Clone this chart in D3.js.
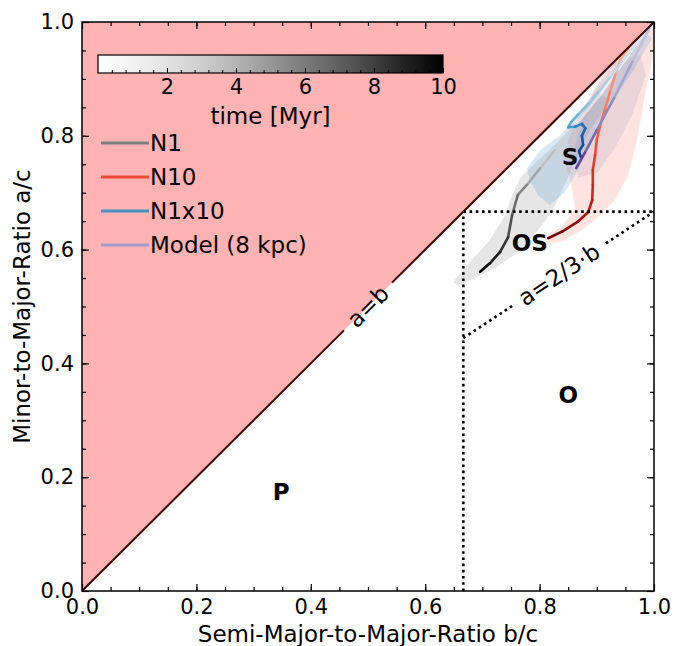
<!DOCTYPE html>
<html>
<head>
<meta charset="utf-8">
<script src="https://cdn.jsdelivr.net/npm/d3@7"></script>
<style>
  body { margin: 0; background: #fff; }
  text { font-family: "DejaVu Sans", sans-serif; fill: #000; }
</style>
</head>
<body>
<div id="chart"></div>
<script>
// tracks: [b/c, a/c, time in Myr]
let n1Track = [
  [0.984, 0.986, 0], [0.949, 0.933, 0.8], [0.906, 0.872, 1.6], [0.862, 0.819, 2.4],
  [0.827, 0.775, 3.2], [0.801, 0.743, 4.0], [0.778, 0.714, 5.0], [0.762, 0.696, 6.0],
  [0.752, 0.661, 7.0], [0.745, 0.622, 8.0], [0.731, 0.596, 8.7], [0.713, 0.576, 9.4],
  [0.696, 0.561, 10]
];
let n10Track = [
  [0.993, 0.995, 0], [0.976, 0.977, 0.6], [0.955, 0.954, 1.2], [0.941, 0.933, 1.8],
  [0.932, 0.907, 2.4], [0.923, 0.877, 3.0], [0.914, 0.845, 3.6], [0.906, 0.819, 4.2],
  [0.900, 0.793, 4.8], [0.897, 0.766, 5.4], [0.893, 0.740, 6.0], [0.893, 0.714, 6.6],
  [0.892, 0.687, 7.2], [0.885, 0.666, 7.9], [0.867, 0.649, 8.6], [0.840, 0.632, 9.3],
  [0.815, 0.620, 10]
];
let n1x10Track = [
  [0.990, 0.989, 0], [0.967, 0.960, 0.8], [0.944, 0.930, 1.6], [0.923, 0.902, 2.4],
  [0.902, 0.877, 3.0], [0.885, 0.856, 3.6], [0.867, 0.837, 4.2], [0.855, 0.824, 4.8],
  [0.850, 0.815, 5.4], [0.862, 0.816, 6.4], [0.874, 0.821, 7.2], [0.880, 0.813, 7.9],
  [0.874, 0.800, 8.5], [0.876, 0.784, 9.0], [0.869, 0.773, 9.5], [0.872, 0.763, 10]
];
let modelTrack = [
  [0.995, 0.995, 0], [0.962, 0.930, 2], [0.930, 0.866, 4], [0.900, 0.810, 6],
  [0.879, 0.770, 8], [0.864, 0.743, 10]
];

// scatter envelopes: [b/c, a/c]
let n1Band = [
  [0.649, 0.543], [0.678, 0.578], [0.713, 0.617], [0.740, 0.661], [0.752, 0.696],
  [0.766, 0.726], [0.792, 0.752], [0.827, 0.784], [0.871, 0.831], [0.906, 0.872],
  [0.923, 0.863], [0.888, 0.810], [0.862, 0.757], [0.844, 0.714], [0.827, 0.678],
  [0.809, 0.649], [0.783, 0.617], [0.757, 0.591], [0.722, 0.568], [0.687, 0.550],
  [0.657, 0.536]
];
let n10Band = [
  [0.984, 0.995], [1.0, 0.986], [0.997, 0.933], [0.984, 0.872], [0.972, 0.801],
  [0.955, 0.731], [0.932, 0.687], [0.906, 0.661], [0.879, 0.638], [0.844, 0.617],
  [0.815, 0.608], [0.808, 0.622], [0.836, 0.638], [0.862, 0.670], [0.857, 0.705],
  [0.846, 0.749], [0.850, 0.793], [0.874, 0.845], [0.906, 0.895], [0.941, 0.942]
];
let n1x10Band = [
  [0.778, 0.743], [0.801, 0.775], [0.836, 0.801], [0.871, 0.840], [0.906, 0.880],
  [0.949, 0.937], [0.984, 0.982], [0.997, 0.972], [0.962, 0.912], [0.927, 0.859],
  [0.899, 0.819], [0.885, 0.779], [0.865, 0.736], [0.844, 0.701], [0.818, 0.678],
  [0.797, 0.696], [0.783, 0.722]
];
let modelBand = [
  [0.914, 0.924], [0.976, 0.942], [0.986, 0.907], [0.962, 0.837], [0.932, 0.779],
  [0.902, 0.736], [0.867, 0.726], [0.860, 0.775], [0.879, 0.845]
];

let seriesNames = ["N1", "N10", "N1x10", "Model (8 kpc)"];
let xTicks = [0, 0.2, 0.4, 0.6, 0.8, 1.0];
let yTicks = [0, 0.2, 0.4, 0.6, 0.8, 1.0];
let timeTicks = [2, 4, 6, 8, 10];
let regionNames = ["S", "OS", "O", "P"];
let regionSpots = [[0.853, 0.763], [0.783, 0.612], [0.850, 0.344], [0.348, 0.174]];

let series = [
  {name: seriesNames[0], track: n1Track, band: n1Band, cmap: d3.interpolateGreys, lo: 0, hi: 1,
   bandFill: "rgba(140,140,140,0.22)", legend: "#7f7f7f"},
  {name: seriesNames[1], track: n10Track, band: n10Band, cmap: d3.interpolateReds, lo: 0.15, hi: 1,
   bandFill: "rgba(248,120,100,0.20)", legend: "#ef4a36"},
  {name: seriesNames[2], track: n1x10Track, band: n1x10Band, cmap: d3.interpolateBlues, lo: 0.1, hi: 0.95,
   bandFill: "rgba(110,165,215,0.26)", legend: "#4a8fc7"},
  {name: seriesNames[3], track: modelTrack, band: modelBand, cmap: d3.interpolatePurples, lo: 0.3, hi: 0.85,
   bandFill: "rgba(150,140,185,0.18)", legend: "#a09dcc"}
];

let margin = {left: 82, right: 24, top: 22, bottom: 55};
let W = 678, H = 646;
let width = W - margin.left - margin.right;
let height = H - margin.top - margin.bottom;

let svg = d3.select("#chart").append("svg")
  .attr("width", W).attr("height", H);

let x = d3.scaleLinear().domain([0, 1]).range([margin.left, margin.left + width]);
let y = d3.scaleLinear().domain([0, 1]).range([margin.top + height, margin.top]);

svg.append("clipPath").attr("id", "plotclip").append("rect")
  .attr("x", x(0)).attr("y", y(1)).attr("width", width).attr("height", height);

let plot = svg.append("g").attr("clip-path", "url(#plotclip)");
let line = d3.line().x(d => x(d[0])).y(d => y(d[1]));

// prolate region above a=b
plot.append("path")
  .attr("d", line([[0, 0], [0, 1], [1, 1]]) + "Z")
  .attr("fill", "#ffb3b3");

// envelopes
series.forEach(s => {
  plot.append("path")
    .attr("d", line(s.band) + "Z")
    .attr("fill", s.bandFill)
    .attr("stroke", "none");
});

// tracks coloured by time
series.forEach(s => {
  let segs = d3.pairs(s.track);
  plot.selectAll(null).data(segs).enter().append("path")
    .attr("d", d => line(d))
    .attr("fill", "none")
    .attr("stroke-width", 2.6)
    .attr("stroke-linecap", "round")
    .attr("stroke", d => s.cmap(s.lo + (s.hi - s.lo) * ((d[0][2] + d[1][2]) / 2) / 10));
});

// a=b line with a gap for its label
[[[0, 0], [0.458, 0.458]], [[0.542, 0.542], [1, 1]]].forEach(seg => {
  plot.append("path").attr("d", line(seg))
    .attr("stroke", "#3a0505").attr("stroke-width", 2).attr("fill", "none");
});
let abAngle = Math.atan2(y(1) - y(0), x(1) - x(0)) * 180 / Math.PI;
svg.append("text")
  .attr("transform", "translate(" + x(0.5) + "," + y(0.5) + ") rotate(" + abAngle + ")")
  .attr("text-anchor", "middle").attr("dominant-baseline", "central")
  .style("font-size", "23px").text("a=b");

// dotted class boundaries
let dotted = [
  [[2 / 3, 0], [2 / 3, 2 / 3]],
  [[2 / 3, 2 / 3], [1, 2 / 3]],
  [[2 / 3, 4 / 9], [0.752, 0.501]],
  [[0.916, 0.611], [1, 2 / 3]]
];
dotted.forEach(seg => {
  plot.append("path").attr("d", line(seg))
    .attr("stroke", "#000").attr("stroke-width", 2.6).attr("fill", "none")
    .attr("stroke-dasharray", "2.6,3.6");
});
let obAngle = Math.atan2(y(2 / 3) - y(4 / 9), x(1) - x(2 / 3)) * 180 / Math.PI;
svg.append("text")
  .attr("transform", "translate(" + x(0.834) + "," + y(0.556) + ") rotate(" + obAngle + ")")
  .attr("text-anchor", "middle").attr("dominant-baseline", "central")
  .style("font-size", "23px").text("a=2/3\u00b7b");

// region labels
svg.selectAll(null).data(regionNames).enter().append("text")
  .attr("x", (d, i) => x(regionSpots[i][0]))
  .attr("y", (d, i) => y(regionSpots[i][1]))
  .attr("text-anchor", "middle").attr("dominant-baseline", "central")
  .style("font-size", "23px").style("font-weight", "bold")
  .text(d => d);

// colour bar
let cb = {x0: 98, x1: 443, y0: 55, h: 18};
let grad = svg.append("defs").append("linearGradient").attr("id", "timegrad");
d3.range(0, 1.001, 0.05).forEach(t => {
  grad.append("stop").attr("offset", t).attr("stop-color", d3.interpolateGreys(t));
});
svg.append("rect")
  .attr("x", cb.x0).attr("y", cb.y0).attr("width", cb.x1 - cb.x0).attr("height", cb.h)
  .attr("fill", "url(#timegrad)");
let tScale = d3.scaleLinear().domain([0, 10]).range([cb.x0, cb.x1]);
let cbAxis = svg.append("g").attr("transform", "translate(0," + (cb.y0 + cb.h) + ")")
  .call(d3.axisBottom(tScale).tickValues(timeTicks).tickSizeInner(-5).tickSizeOuter(0).tickPadding(6));
let cbMinor = svg.append("g").attr("transform", "translate(0," + (cb.y0 + cb.h) + ")")
  .call(d3.axisBottom(tScale).tickValues(d3.range(0.4, 10, 0.4)).tickSizeInner(-3).tickSizeOuter(0).tickFormat(""));
[cbAxis, cbMinor].forEach(g => {
  g.select(".domain").remove();
  g.selectAll("line").attr("stroke", "#000").attr("stroke-width", 1);
});
cbAxis.selectAll("text").style("font-size", "21px").style("font-family", "DejaVu Sans");
svg.append("rect")
  .attr("x", cb.x0).attr("y", cb.y0).attr("width", cb.x1 - cb.x0).attr("height", cb.h)
  .attr("fill", "none").attr("stroke", "#000").attr("stroke-width", 1.2);
svg.append("text").attr("x", (cb.x0 + cb.x1) / 2).attr("y", 116)
  .attr("text-anchor", "middle").attr("dominant-baseline", "central")
  .style("font-size", "23px").text("time [Myr]");

// legend
let legend = svg.append("g");
series.forEach((s, i) => {
  let ly = 143 + i * 34;
  legend.append("line").attr("x1", 101).attr("x2", 149).attr("y1", ly).attr("y2", ly)
    .attr("stroke", s.legend).attr("stroke-width", 3);
  legend.append("text").attr("x", 150).attr("y", ly)
    .attr("dominant-baseline", "central").style("font-size", "23px").text(s.name);
});

// axes with inward ticks on all sides
function styleAxis(g) {
  g.select(".domain").remove();
  g.selectAll("line").attr("stroke", "#000").attr("stroke-width", 1.2);
  g.selectAll("text").style("font-size", "21px").style("font-family", "DejaVu Sans");
}
let minorVals = d3.range(0.05, 1, 0.05);
svg.append("g").attr("transform", "translate(0," + y(0) + ")")
  .call(d3.axisBottom(x).tickValues(xTicks).tickFormat(d3.format(".1f")).tickSizeInner(-7).tickSizeOuter(0).tickPadding(8))
  .call(styleAxis);
svg.append("g").attr("transform", "translate(0," + y(0) + ")")
  .call(d3.axisBottom(x).tickValues(minorVals).tickFormat("").tickSizeInner(-4).tickSizeOuter(0))
  .call(styleAxis);
svg.append("g").attr("transform", "translate(0," + y(1) + ")")
  .call(d3.axisTop(x).tickValues(xTicks).tickFormat("").tickSizeInner(-7).tickSizeOuter(0))
  .call(styleAxis);
svg.append("g").attr("transform", "translate(0," + y(1) + ")")
  .call(d3.axisTop(x).tickValues(minorVals).tickFormat("").tickSizeInner(-4).tickSizeOuter(0))
  .call(styleAxis);
svg.append("g").attr("transform", "translate(" + x(0) + ",0)")
  .call(d3.axisLeft(y).tickValues(yTicks).tickFormat(d3.format(".1f")).tickSizeInner(-7).tickSizeOuter(0).tickPadding(8))
  .call(styleAxis);
svg.append("g").attr("transform", "translate(" + x(0) + ",0)")
  .call(d3.axisLeft(y).tickValues(minorVals).tickFormat("").tickSizeInner(-4).tickSizeOuter(0))
  .call(styleAxis);
svg.append("g").attr("transform", "translate(" + x(1) + ",0)")
  .call(d3.axisRight(y).tickValues(yTicks).tickFormat("").tickSizeInner(-7).tickSizeOuter(0))
  .call(styleAxis);
svg.append("g").attr("transform", "translate(" + x(1) + ",0)")
  .call(d3.axisRight(y).tickValues(minorVals).tickFormat("").tickSizeInner(-4).tickSizeOuter(0))
  .call(styleAxis);

svg.append("rect").attr("x", x(0)).attr("y", y(1)).attr("width", width).attr("height", height)
  .attr("fill", "none").attr("stroke", "#000").attr("stroke-width", 1.5);

// axis titles
svg.append("text").attr("x", x(0.5)).attr("y", 634)
  .attr("text-anchor", "middle").attr("dominant-baseline", "central")
  .style("font-size", "23px").text("Semi-Major-to-Major-Ratio b/c");
svg.append("text").attr("transform", "translate(22," + y(0.5) + ") rotate(-90)")
  .attr("text-anchor", "middle").attr("dominant-baseline", "central")
  .style("font-size", "23px").text("Minor-to-Major-Ratio a/c");
</script>
</body>
</html>
